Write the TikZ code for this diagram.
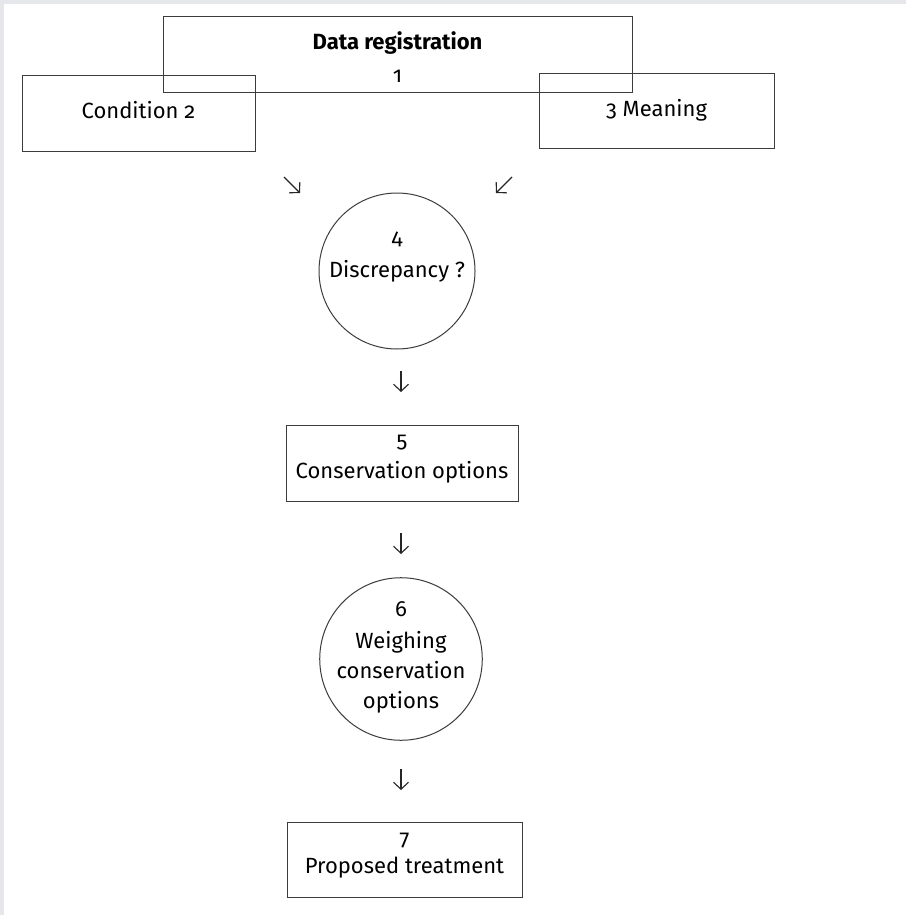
\documentclass[tikz,border=0pt]{standalone}
\usepackage{fontspec}
\setmainfont{Fira Sans}[Numbers=OldStyle]
\usetikzlibrary{arrows.meta}
\definecolor{framegray}{RGB}{229,231,235}
\definecolor{inkgray}{RGB}{60,60,60}
\tikzset{
  box/.style={draw=inkgray, line width=1pt, rectangle, align=center, inner sep=0pt, text depth=0pt},
  disc/.style={draw=inkgray, line width=1pt, circle, align=center, inner sep=0pt, text depth=0pt},
  arr/.style={-{Straight Barb[length=7pt,width=15pt]}, line width=1.1pt, black!85},
}
\begin{document}
\begin{tikzpicture}[x=1pt,y=-1pt,font=\fontsize{22}{30}\selectfont]
\fill[framegray] (0,0) rectangle (906,915);
\fill[white] (4,4) rectangle (906,915);
\useasboundingbox (0,0) rectangle (906,915);
% top row
\node[box, minimum width=469, minimum height=76, text height=56pt] (reg) at (397.5,55) {\textbf{Data registration}\\[3pt]1};
\node[box, minimum width=233, minimum height=75, text height=10pt] (cond) at (138.5,113.5) {Condition 2};
\node[box, minimum width=235, minimum height=74, text height=12pt] (mean) at (656.5,111) {3 Meaning};
% chain
\node[disc, minimum size=156, text height=12pt] (disc) at (397,271) {4\\[3pt]Discrepancy ?};
\node[box, minimum width=232, minimum height=76, text height=30pt] (opt) at (402,463) {5\\[1pt]Conservation options};
\node[disc, minimum size=150, text height=99pt] (weigh) at (401,659) {6\\[2pt]Weighing\\conservation\\options};
\node[box, minimum width=235, minimum height=75, text height=27pt] (treat) at (404.5,859.5) {7\\[-2pt]Proposed treatment};
% arrows
\coordinate (s2) at (284,177);
\coordinate (e2) at (300,193);
\coordinate (s3) at (512,177);
\coordinate (e3) at (496,193);
\draw[arr] (s2) -- (e2);
\draw[arr] (s3) -- (e3);
\foreach \n/\y in {45/371,56/533,67/769}{
  \coordinate (s\n) at (401,\y);
  \coordinate (e\n) at (401,\y+21);
  \draw[arr] (s\n) -- (e\n);
}
\end{tikzpicture}
\end{document}
